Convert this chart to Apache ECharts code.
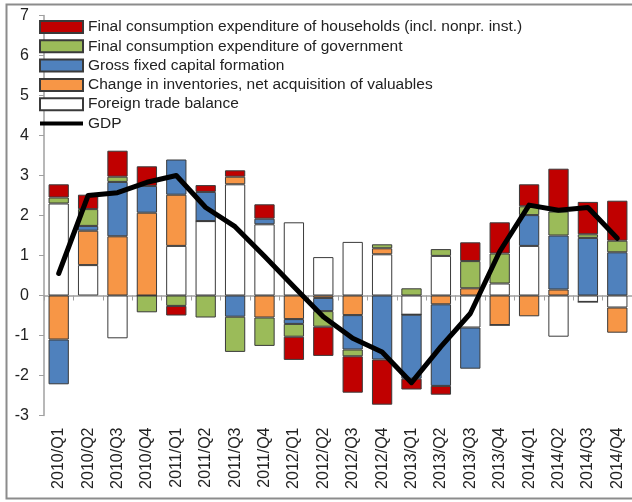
<!DOCTYPE html>
<html>
<head>
<meta charset="utf-8">
<script src="https://cdn.jsdelivr.net/npm/echarts@6/dist/echarts.min.js"></script>
<style>
html,body{margin:0;padding:0;background:#fff;}
#chart{width:632px;height:502px;}
</style>
</head>
<body>
<div id="chart"></div>
<script>
const categories = ['2010/Q1','2010/Q2','2010/Q3','2010/Q4','2011/Q1','2011/Q2','2011/Q3','2011/Q4','2012/Q1','2012/Q2','2012/Q3','2012/Q4','2013/Q1','2013/Q2','2013/Q3','2013/Q4','2014/Q1','2014/Q2','2014/Q3','2014/Q4'];
const households = [0.33,0.36,0.65,0.49,-0.24,0.17,0.16,0.36,-0.58,-0.73,-0.91,-1.13,-0.27,-0.22,0.47,0.78,0.55,1.07,0.81,1.00];
const government = [0.15,0.42,0.13,-0.42,-0.26,-0.55,-0.88,-0.71,-0.32,-0.39,-0.17,0.10,0.18,0.17,0.68,0.75,0.22,0.60,0.09,0.29];
const gfcf = [-1.12,0.12,1.36,0.67,0.88,0.73,-0.53,0.14,-0.12,-0.33,-0.86,-1.60,-1.60,-2.04,-1.03,0.00,0.77,1.35,1.44,1.08];
const inventories = [-1.10,0.86,1.48,2.07,1.28,0.00,0.19,-0.55,-0.59,-0.06,-0.49,0.15,0.00,-0.22,0.18,-0.74,-0.52,0.15,0.00,-0.63];
const tradeBalance = [2.30,0.76,-1.07,0.00,1.24,1.86,2.78,1.78,1.83,0.96,1.34,1.03,-0.48,0.99,-0.80,0.30,1.24,-1.03,-0.16,-0.30];
const gdp = [0.55,2.50,2.57,2.83,3.00,2.20,1.72,0.98,0.22,-0.53,-1.07,-1.41,-2.18,-1.28,-0.45,1.10,2.26,2.13,2.20,1.43];
const yTicks = [-3,-2,-1,0,1,2,3,4,5,6,7];

const names = {
  hh: 'Final consumption expenditure of households (incl. nonpr. inst.)',
  gov: 'Final consumption expenditure of government',
  gfcf: 'Gross fixed capital formation',
  inv: 'Change in inventories, net acquisition of valuables',
  trade: 'Foreign trade balance',
  gdp: 'GDP'
};

const chart = echarts.init(document.getElementById('chart'), null, {renderer:'canvas'});
const border = '#3a3a3a';
function barSeries(name, data, color) {
  return {
    name: name, type: 'bar', stack: 'total', data: data,
    barCategoryGap: '31%', xAxisIndex: 0,
    itemStyle: {color: color, borderColor: border, borderWidth: 1},
    emphasis: {disabled: true}
  };
}
const font = 'Liberation Sans, Arial, sans-serif';
chart.setOption({
  animation: false,
  graphic: [{
    type: 'rect', shape: {x: 6.5, y: 4.5, width: 700, height: 494},
    style: {fill: 'none', stroke: '#8c8c8c', lineWidth: 2}, silent: true, z: -10
  }],
  grid: {left: 44, top: 15.5, width: 588, height: 400, containLabel: false},
  legend: {
    orient: 'vertical', left: 39, top: 19, padding: 0, itemWidth: 43, itemHeight: 12, itemGap: 3.3,
    textStyle: {fontFamily: font, fontSize: 15.5, color: '#222'},
    data: [
      {name: names.hh, icon: 'rect'},
      {name: names.gov, icon: 'rect'},
      {name: names.gfcf, icon: 'rect'},
      {name: names.inv, icon: 'rect'},
      {name: names.trade, icon: 'rect'},
      {name: names.gdp, icon: 'path://M0,4 L43,4 L43,8 L0,8 Z', itemStyle: {color: '#000', borderWidth: 0}}
    ],
    selectedMode: false
  },
  xAxis: [{
    type: 'category', data: categories, position: 'bottom',
    axisLine: {show: false, onZero: false}, axisTick: {show: false},
    axisLabel: {rotate: 90, margin: 12, fontFamily: font, fontSize: 16, color: '#222', interval: 0}
  }, {
    type: 'category', data: categories, position: 'bottom',
    axisLine: {show: true, onZero: true, lineStyle: {color: '#a0a0a0', width: 1.5}},
    axisTick: {show: true, length: 5, alignWithLabel: false, interval: 0, lineStyle: {color: '#a0a0a0'}},
    axisLabel: {show: false}, splitLine: {show: false}
  }],
  yAxis: {
    type: 'value', min: -3, max: 7, interval: 1,
    axisLine: {show: true, lineStyle: {color: '#a0a0a0', width: 1.5}},
    axisTick: {show: true, length: 5, lineStyle: {color: '#a0a0a0'}},
    axisLabel: {margin: 15, fontFamily: font, fontSize: 16, color: '#222',
      formatter: v => (yTicks.indexOf(v) >= 0 ? String(v) : '')},
    splitLine: {show: false}
  },
  series: [
    barSeries(names.trade, tradeBalance, '#ffffff'),
    barSeries(names.inv, inventories, '#f79646'),
    barSeries(names.gfcf, gfcf, '#4f81bd'),
    barSeries(names.gov, government, '#9bbb59'),
    barSeries(names.hh, households, '#c00000'),
    {
      name: names.gdp, type: 'line', data: gdp, xAxisIndex: 0, z: 10,
      symbol: 'none', lineStyle: {color: '#000', width: 5, cap: 'round', join: 'round'},
      itemStyle: {color: '#000'}, emphasis: {disabled: true}
    }
  ]
});
</script>
</body>
</html>
